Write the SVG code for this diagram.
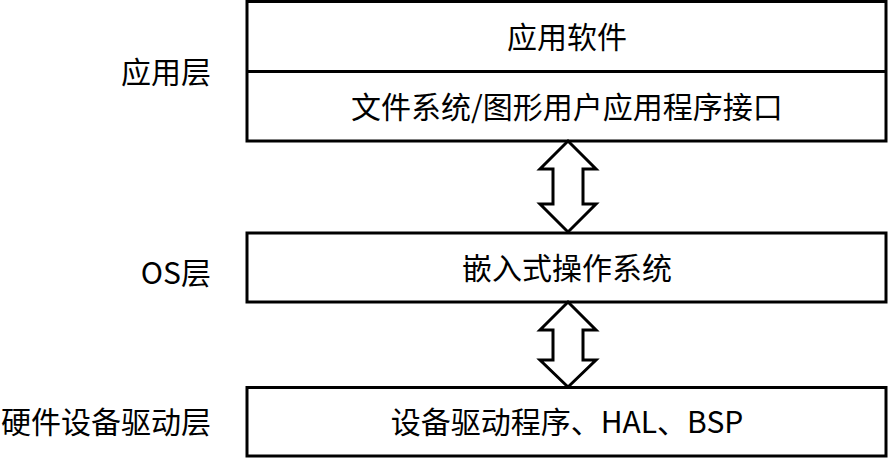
<svg xmlns="http://www.w3.org/2000/svg" width="890" height="459" viewBox="0 0 890 459">
<style>
.box{fill:#fff;stroke:#000;stroke-width:3}
.arr{fill:#fff;stroke:#000;stroke-width:3;stroke-linejoin:miter}
.t{font-family:"Noto Sans CJK SC","Microsoft YaHei",sans-serif;font-size:30px;fill:#000}
.c{text-anchor:middle}
.l{text-anchor:end}
</style>
<rect width="890" height="459" fill="#fff"/>
<g id="labels">
<text class="t l" x="211" y="83">应用层</text>
<text class="t l" x="211" y="284">OS层</text>
<text class="t l" x="211" y="433">硬件设备驱动层</text>
</g>
<g id="app-layer">
<rect class="box" x="247" y="1.5" width="639" height="139.5"/>
<line x1="247" y1="71.5" x2="886" y2="71.5" stroke="#000" stroke-width="3"/>
<text class="t c" x="567" y="48">应用软件</text>
<text class="t c" x="567" y="118">文件系统/图形用户应用程序接口</text>
</g>
<g id="os-layer">
<rect class="box" x="247" y="233" width="639" height="69"/>
<text class="t c" x="567" y="279">嵌入式操作系统</text>
</g>
<g id="hw-layer">
<rect class="box" x="247" y="387.5" width="639" height="68.5"/>
<text class="t c" x="567" y="433">设备驱动程序、HAL、BSP</text>
</g>
<g id="connectors">
<path class="arr" d="M568,141 L596,169 L583,169 L583,204 L596,204 L568,232 L540,204 L553,204 L553,169 L540,169 Z"/>
<path class="arr" d="M568,302 L596,330 L583,330 L583,360 L596,360 L568,387 L540,360 L553,360 L553,330 L540,330 Z"/>
</g>
</svg>
